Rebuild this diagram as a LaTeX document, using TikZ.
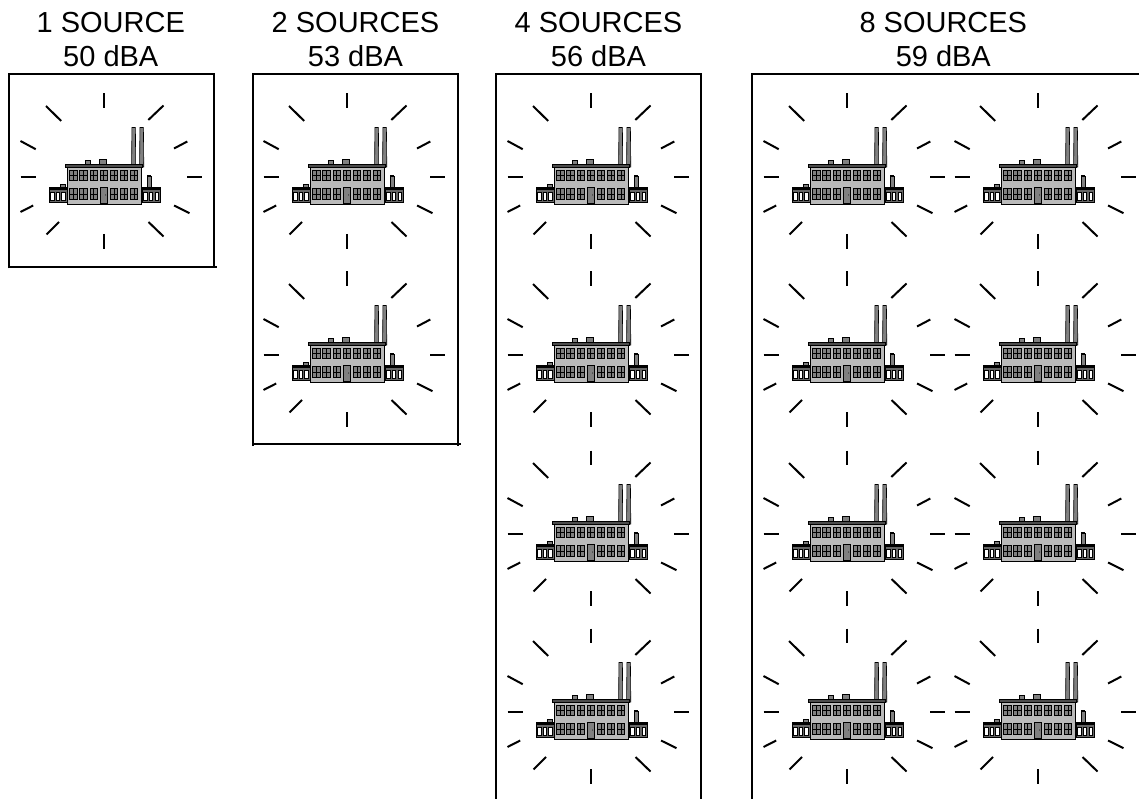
\documentclass[tikz,border=0pt]{standalone}
\usepackage{fontspec}
\setmainfont{Liberation Sans}
\begin{document}
\begin{tikzpicture}[x=1pt,y=-1pt]
\tikzset{
  tickline/.style={line width=2pt, line cap=butt},
  boxline/.style={line width=2pt},
  title/.style={anchor=base, inner sep=0pt, font=\fontsize{29}{34}\selectfont},
  wall/.style={fill=black!27, draw=black, line width=0.7pt},
  wing/.style={fill=black!60, draw=black, line width=0.7pt},
  stack/.style={fill=black!50, draw=black, line width=0.6pt},
  pane/.style={fill=black!50, draw=black, line width=0.8pt},
  pics/factory/.style={code={
    % sound burst
    \draw[tickline] (0,-83.5) -- (0,-69);
    \draw[tickline] (0,57) -- (0,72);
    \draw[tickline] (-83.5,0) -- (-68.3,0);
    \draw[tickline] (83,0) -- (98.2,0);
    \draw[tickline] (-58,-71) -- (-42.8,-56);
    \draw[tickline] (59.5,-71.5) -- (44.3,-57);
    \draw[tickline] (-83.5,-36) -- (-68.3,-27.8);
    \draw[tickline] (70,-28.5) -- (83.3,-35.5);
    \draw[tickline] (-83.5,35) -- (-70.8,28.5);
    \draw[tickline] (70,28.5) -- (85.5,36.2);
    \draw[tickline] (-57.5,57.5) -- (-45,45);
    \draw[tickline] (44.5,45) -- (59.5,59.5);
    % chimneys
    \filldraw[stack] (27.6,-10) -- (27.9,-49.5) -- (31.4,-49.5) -- (31.7,-10) -- cycle;
    \filldraw[stack] (35.6,-10) -- (35.9,-49.5) -- (39.4,-49.5) -- (39.8,-10) -- cycle;
    % small stack on right
    \filldraw[stack] (43,11) rectangle (46.8,-0.5);
    \filldraw[stack] (43.6,-0.5) rectangle (46.2,-2);
    % roof boxes
    \filldraw[stack] (-18.3,-12.4) rectangle (-13.6,-16.4);
    \filldraw[stack] (-4.3,-12.4) rectangle (2.4,-17.7);
    % wings
    \filldraw[wing] (-55,10.5) rectangle (-36.6,25.4);
    \filldraw[wing] (38.2,10.5) rectangle (56.6,25.4);
    \fill[black] (-55,10.5) rectangle (-36.6,13);
    \fill[black] (38.2,10.5) rectangle (56.6,13);
    \filldraw[stack] (-43.5,7) rectangle (-38.5,10.5);
    \foreach \k in {0,1,2}{
      \filldraw[fill=white, draw=black, line width=0.7pt] (-53.4+5.6*\k,15) rectangle ++(3.4,8.5);
      \filldraw[fill=white, draw=black, line width=0.7pt] (39.8+5.6*\k,15) rectangle ++(3.4,8.5);
    }
    % main building
    \filldraw[wall] (-36.6,-9.7) rectangle (37.4,27);
    \filldraw[fill=black!70, draw=black, line width=0.6pt] (-38.6,-12.7) rectangle (38.2,-9.7);
    % windows
    \foreach \i in {0,...,6}{
      \filldraw[pane] (-34.3+10.1*\i,-6.4) rectangle ++(7.5,10);
      \draw[line width=0.7pt] (-30.55+10.1*\i,-6.4) -- ++(0,10);
      \draw[line width=0.7pt] (-34.3+10.1*\i,-1.4) -- ++(7.5,0);
    }
    \foreach \i in {0,1,2,4,5,6}{
      \filldraw[pane] (-34.3+10.1*\i,11.5) rectangle ++(7.5,11);
      \draw[line width=0.7pt] (-30.55+10.1*\i,11.5) -- ++(0,11);
      \draw[line width=0.7pt] (-34.3+10.1*\i,17) -- ++(7.5,0);
    }
    % door
    \filldraw[fill=black!50, draw=black, line width=0.9pt] (-3.6,10) rectangle (3.4,26.5);
    \fill[black] (1.6,18) circle (0.5);
  }}
}
\useasboundingbox (0,0) rectangle (1139,799);
\fill[white] (0,0) rectangle (1139,799);

% titles
\node[title] (t1a) at (110.8,33) {1 SOURCE};
\node[title] (t1b) at (110.8,66.5) {50 dBA};
\node[title] (t2a) at (355.5,33) {2 SOURCES};
\node[title] (t2b) at (355.5,66.5) {53 dBA};
\node[title] (t3a) at (598.5,33) {4 SOURCES};
\node[title] (t3b) at (598.5,66.5) {56 dBA};
\node[title] (t4a) at (943.3,33) {8 SOURCES};
\node[title] (t4b) at (943.3,66.5) {59 dBA};

% frames
\draw[boxline] (9,268.5) -- (9,74) -- (214,74) -- (214,268.5);
\draw[boxline] (9,267) -- (216.5,267);
\draw[boxline] (253,446) -- (253,74) -- (458,74) -- (458,446);
\draw[boxline] (253,444) -- (461,444);
\draw[boxline] (496,799) -- (496,74) -- (701,74) -- (701,799);
\draw[boxline] (752,799) -- (752,74) -- (1139,74);

% sources
\pic at (104,177) {factory};
\pic at (347,177) {factory};
\pic at (347,355) {factory};
\foreach \yy in {177,355,534,712}{
  \pic at (591,\yy) {factory};
  \pic at (847,\yy) {factory};
  \pic at (1038,\yy) {factory};
}
\end{tikzpicture}
\end{document}
